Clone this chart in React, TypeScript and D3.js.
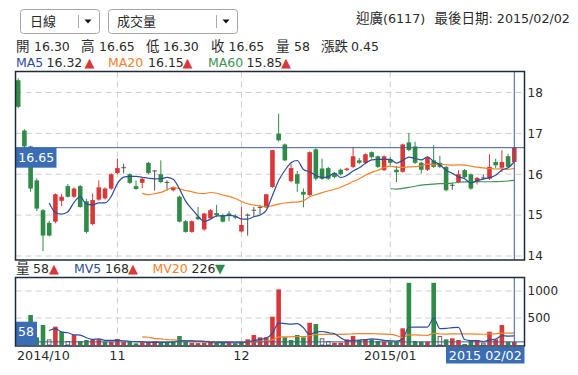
import React from 'react';
import * as d3 from 'd3';

// ---- data (index 0 = 2014/10/09 ... index 80 = 2015/02/02) ----
const opens = [18.30,17.07,16.68,15.85,15.12,14.81,14.84,15.35,15.71,15.45,
15.71,15.34,14.78,15.38,15.41,15.65,16.03,16.15,16.00,15.71,
15.79,16.28,16.08,16.00,15.80,15.61,15.45,14.85,14.59,14.96,
14.65,14.92,15.05,15.00,15.04,14.97,14.60,15.00,15.12,15.19,
15.19,15.69,16.99,16.73,15.83,16.00,15.57,15.49,16.61,16.14,
16.15,16.03,16.11,16.10,16.18,16.34,16.28,16.54,16.44,16.10,
16.36,16.11,16.06,16.78,16.68,16.28,16.11,16.34,16.28,16.18,
15.73,15.81,16.10,16.00,15.81,15.90,15.89,16.30,16.16,16.44,
16.30];
const highs = [18.35,17.10,16.70,15.90,15.15,14.86,15.53,15.52,15.76,15.68,
15.74,15.40,15.53,15.85,15.68,16.02,16.38,16.26,16.02,15.85,
15.92,16.30,16.10,16.34,15.85,15.70,15.48,14.88,14.87,15.20,
15.06,15.15,15.25,15.03,15.10,15.02,15.20,15.04,15.20,15.25,
15.52,16.59,17.48,16.75,16.26,16.08,15.65,16.56,16.63,16.38,
16.18,16.05,16.14,16.16,16.67,16.40,16.51,16.56,16.46,16.46,
16.42,16.20,16.75,17.01,16.80,16.30,16.44,16.71,16.45,16.20,
15.78,16.10,16.13,16.02,15.93,16.00,16.49,16.38,16.59,16.50,
16.65];
const lows = [17.62,16.62,15.57,15.10,14.12,14.48,14.80,15.22,15.43,15.42,
15.18,14.55,14.75,15.35,15.38,15.62,16.00,16.02,15.76,15.62,
15.66,16.00,15.60,15.78,15.60,15.58,14.82,14.57,14.57,14.88,
14.62,14.90,14.95,14.82,14.85,14.90,14.58,14.50,14.95,15.02,
15.17,15.67,16.80,16.32,15.80,15.57,15.19,15.47,15.85,15.86,
15.86,15.90,15.97,16.08,16.15,16.25,16.25,16.38,16.15,16.08,
16.22,15.81,16.04,16.56,16.25,16.02,16.08,16.15,16.15,15.58,
15.62,15.78,15.90,15.62,15.75,15.88,15.86,16.15,16.05,16.16,
16.30];
const closes = [17.65,16.68,15.65,15.16,14.50,14.50,15.51,15.45,15.45,15.65,
15.20,14.59,15.37,15.68,15.65,16.00,16.15,16.16,15.79,15.64,
15.89,16.03,16.08,15.81,15.80,15.68,14.84,14.59,14.85,14.90,
15.04,15.12,15.00,14.84,14.98,14.94,14.76,15.00,15.12,15.19,
15.51,16.59,16.83,16.34,16.15,15.77,15.50,16.54,15.89,15.89,
15.89,15.93,16.00,16.14,16.44,16.28,16.49,16.42,16.18,16.44,
16.28,16.05,16.73,16.59,16.28,16.11,16.41,16.18,16.18,15.61,
15.73,16.00,15.93,15.65,15.91,15.91,16.18,16.22,16.30,16.18,
16.65];
const volumes = [380,170,555,142,370,105,339,246,74,185,
74,92,105,105,61,61,111,55,60,30,
50,40,70,45,50,60,166,60,40,35,
45,50,40,45,35,30,60,105,185,142,
142,524,1030,142,92,185,142,412,388,124,
74,43,43,105,166,92,92,105,74,61,
61,61,309,1152,74,61,61,1152,166,105,
124,92,19,74,92,43,246,105,370,61,
58];

const monthTickIndex = [0, 16, 36, 60];
const monthTickLabels = ['2014/10', '11', '12', '2015/01'];
const priceTicks = [14, 15, 16, 17, 18];
const volumeTicks = [500, 1000];

const RED = '#d9383a';
const GREEN = '#2f8b47';
const DOJI = '#555555';
const MA5C = '#2d4d9c';
const MA20C = '#f08228';
const MA60C = '#3f9155';
const BOX = '#3a6db4';
const CROSS = '#3d5f98';
const FRAME = '#1d2b3b';
const GRID = '#cfcfcf';
const TXT = '#2a2a2a';
const FONT = "'DejaVu Sans','Noto Sans CJK TC',sans-serif";
const CJK = 13.5;

function movingAvg(arr: number[], n: number): [number, number][] {
  const out: [number, number][] = [];
  for (let i = n; i < arr.length; i++) {
    out.push([i, d3.mean(arr.slice(i - n + 1, i + 1)) as number]);
  }
  return out;
}

export default function App() {
  const W = 578, H = 375;
  const L = 15.5, R = 524.5, mT = 71.5, mB = 260, vT = 277.5, vB = 346;
  const last = closes.length - 1;

  const x = d3.scaleLinear().domain([0, last]).range([18.2, 514.3]);
  const y = d3.scaleLinear().domain([14, 18]).range([256, 92.5]);
  const yv = d3.scaleLinear().domain([0, 1000]).range([345, 291]);
  const bw = 4.6;

  const priceLine = d3.line<[number, number]>().x(d => x(d[0])).y(d => y(d[1])).curve(d3.curveMonotoneX);
  const volLine = d3.line<[number, number]>().x(d => x(d[0])).y(d => yv(d[1])).curve(d3.curveMonotoneX);

  const ma5 = movingAvg(closes, 5);
  const ma20 = movingAvg(closes, 20);
  const ma60 = movingAvg(closes, 60);
  const mv5 = movingAvg(volumes, 5);
  const mv20 = movingAvg(volumes, 20);

  const lastY = y(closes[last]);
  const lastVY = yv(volumes[last]);
  const lastX = x(last);

  return (
    <svg width={W} height={H} style={{ position: 'absolute', left: 0, top: 0, background: '#fff' }}
      fontFamily={FONT}>
      <rect x={0} y={0} width={W} height={H} fill="#fff" />
      {/* dropdowns */}
      <g>
        <rect x={20.5} y={9.5} width={79} height={24} rx={3} fill="#fff" stroke="#a5a5a5" />
        <line x1={78.5} x2={78.5} y1={15} y2={28} stroke="#aaa" />
        <path d="M84.5,19.5 L91.5,19.5 L88,23.5 Z" fill="#111" />
        <text x={30} y={26} fontSize={13} fill={TXT}>日線</text>
        <rect x={108.5} y={9.5} width={129} height={24} rx={3} fill="#fff" stroke="#a5a5a5" />
        <line x1={216.5} x2={216.5} y1={15} y2={28} stroke="#aaa" />
        <path d="M222.5,19.5 L229.5,19.5 L226,23.5 Z" fill="#111" />
        <text x={117} y={26} fontSize={13} fill={TXT}>成交量</text>
      </g>
      {/* header right */}
      <text y={23} fontSize={12.7} fill={TXT}>
        <tspan x={356} fontSize={CJK}>迎廣</tspan><tspan>(6117)</tspan>
        <tspan x={434.5} fontSize={CJK}>最後日期</tspan><tspan>: 2015/02/02</tspan>
      </text>
      {/* OHLC row */}
      <text y={50.7} fontSize={12.5} fill={TXT}>
        <tspan x={16} fontSize={CJK}>開</tspan><tspan x={34}>16.30</tspan>
        <tspan x={81} fontSize={CJK}>高</tspan><tspan x={99}>16.65</tspan>
        <tspan x={146} fontSize={CJK}>低</tspan><tspan x={163}>16.30</tspan>
        <tspan x={211} fontSize={CJK}>收</tspan><tspan x={228.5}>16.65</tspan>
        <tspan x={276} fontSize={CJK}>量</tspan><tspan x={294}>58</tspan>
        <tspan x={321} fontSize={CJK}>漲跌</tspan><tspan x={351}>0.45</tspan>
      </text>
      {/* MA row */}
      <text y={66.7} fontSize={12.5}>
        <tspan x={16} fill={MA5C}>MA5</tspan><tspan x={46.5} fill={TXT}>16.32</tspan>
        <tspan x={84.5} fill={RED} fontSize={13}>▲</tspan>
        <tspan x={108} fill={MA20C}>MA20</tspan><tspan x={148} fill={TXT}>16.15</tspan>
        <tspan x={182.5} fill={RED} fontSize={13}>▲</tspan>
        <tspan x={208} fill={MA60C}>MA60</tspan><tspan x={246.5} fill={TXT}>15.85</tspan>
        <tspan x={281} fill={RED} fontSize={13}>▲</tspan>
      </text>
      {/* volume label row */}
      <text y={273.3} fontSize={12.5}>
        <tspan x={16} fill={TXT} fontSize={CJK}>量</tspan><tspan x={33} fill={TXT}>58</tspan>
        <tspan x={49} fill={RED} fontSize={13}>▲</tspan>
        <tspan x={74} fill={MA5C}>MV5</tspan><tspan x={105} fill={TXT}>168</tspan>
        <tspan x={128} fill={RED} fontSize={13}>▲</tspan>
        <tspan x={152.5} fill={MA20C}>MV20</tspan><tspan x={191.5} fill={TXT}>226</tspan>
        <tspan x={215} fill={GREEN} fontSize={13}>▼</tspan>
      </text>

      {/* grid main */}
      {priceTicks.map(t => (
        <line key={'pg' + t} x1={L} x2={R} y1={y(t)} y2={y(t)} stroke={GRID} strokeDasharray="6,4" />
      ))}
      {monthTickIndex.slice(1).map(i => (
        <g key={'vg' + i}>
          <line x1={x(i)} x2={x(i)} y1={mT} y2={mB} stroke={GRID} strokeDasharray="6,4" />
          <line x1={x(i)} x2={x(i)} y1={vT} y2={vB} stroke={GRID} strokeDasharray="6,4" />
        </g>
      ))}
      {volumeTicks.map(t => (
        <line key={'vt' + t} x1={L} x2={R} y1={yv(t)} y2={yv(t)} stroke={GRID} strokeDasharray="6,4" />
      ))}

      {/* candles */}
      {closes.map((c, i) => {
        const o = opens[i];
        const doji = Math.abs(c - o) < 0.015;
        const col = doji ? DOJI : c > o ? RED : GREEN;
        const cx = x(i);
        const top = y(Math.max(o, c));
        const bot = y(Math.min(o, c));
        return (
          <g key={'c' + i}>
            <line x1={cx} x2={cx} y1={y(highs[i])} y2={y(lows[i])} stroke={col} strokeWidth={1} />
            {doji
              ? <line x1={cx - bw / 2} x2={cx + bw / 2} y1={top} y2={top} stroke={col} strokeWidth={1} />
              : <rect x={cx - bw / 2} y={top} width={bw} height={Math.max(1, bot - top)} fill={col} />}
          </g>
        );
      })}
      {/* MA lines */}
      <path d={priceLine(ma20) || ''} fill="none" stroke={MA20C} strokeWidth={1.2} />
      <path d={priceLine(ma60) || ''} fill="none" stroke={MA60C} strokeWidth={1.2} />
      <path d={priceLine(ma5) || ''} fill="none" stroke={MA5C} strokeWidth={1.2} />

      {/* volume bars */}
      {volumes.map((v, i) => {
        const prev = i > 0 ? closes[i - 1] : opens[i];
        const flat = closes[i] === prev;
        const col = closes[i] > prev ? RED : GREEN;
        const cx = x(i);
        const top = yv(v);
        return flat
          ? <rect key={'v' + i} x={cx - bw / 2 + 0.5} y={top + 0.5} width={bw - 1} height={Math.max(0, yv(0) - top - 0.5)} fill="#fff" stroke="#666" strokeWidth={1} />
          : <rect key={'v' + i} x={cx - bw / 2} y={top} width={bw} height={yv(0) - top} fill={col} />;
      })}
      <path d={volLine(mv20) || ''} fill="none" stroke={MA20C} strokeWidth={1.2} />
      <path d={volLine(mv5) || ''} fill="none" stroke={MA5C} strokeWidth={1.2} />

      {/* crosshair */}
      <line x1={L} x2={R} y1={lastY} y2={lastY} stroke={CROSS} strokeWidth={1} />
      <line x1={lastX} x2={lastX} y1={mT} y2={mB} stroke={CROSS} strokeWidth={1} />
      <line x1={L} x2={R} y1={lastVY} y2={lastVY} stroke={CROSS} strokeWidth={1} />
      <line x1={lastX} x2={lastX} y1={vT} y2={vB} stroke={CROSS} strokeWidth={1} />

      {/* value boxes */}
      <rect x={L} y={lastY} width={41} height={20} fill={BOX} />
      <text x={18.3} y={lastY + 14.3} fontSize={12.5} fill="#fff">{closes[last].toFixed(2)}</text>
      <rect x={L} y={321.7} width={21.5} height={23.5} fill={BOX} />
      <text x={18} y={336} fontSize={12.5} fill="#fff">{volumes[last]}</text>

      {/* frames */}
      <rect x={L} y={mT} width={R - L} height={mB - mT} fill="none" stroke={FRAME} strokeWidth={1.5} />
      <rect x={L} y={vT} width={R - L} height={vB - vT} fill="none" stroke={FRAME} strokeWidth={1.5} />

      {/* axes labels */}
      {priceTicks.map(t => (
        <text key={'pl' + t} x={527.5} y={y(t) + 4.3} fontSize={12} fill={TXT}>{t}</text>
      ))}
      {volumeTicks.map(t => (
        <text key={'vl' + t} x={527.5} y={yv(t) + 4.3} fontSize={12} fill={TXT}>{t}</text>
      ))}
      {monthTickIndex.map((i, k) => (
        <text key={'ml' + i} x={k === 0 ? 17 : x(i)} y={360} fontSize={12.7} fill={TXT}
          textAnchor={k === 0 ? 'start' : 'middle'}>{monthTickLabels[k]}</text>
      ))}
      <rect x={446} y={347} width={78.5} height={16.5} fill={BOX} />
      <text x={485.3} y={360} fontSize={12.7} fill="#fff" textAnchor="middle">2015 02/02</text>
    </svg>
  );
}
